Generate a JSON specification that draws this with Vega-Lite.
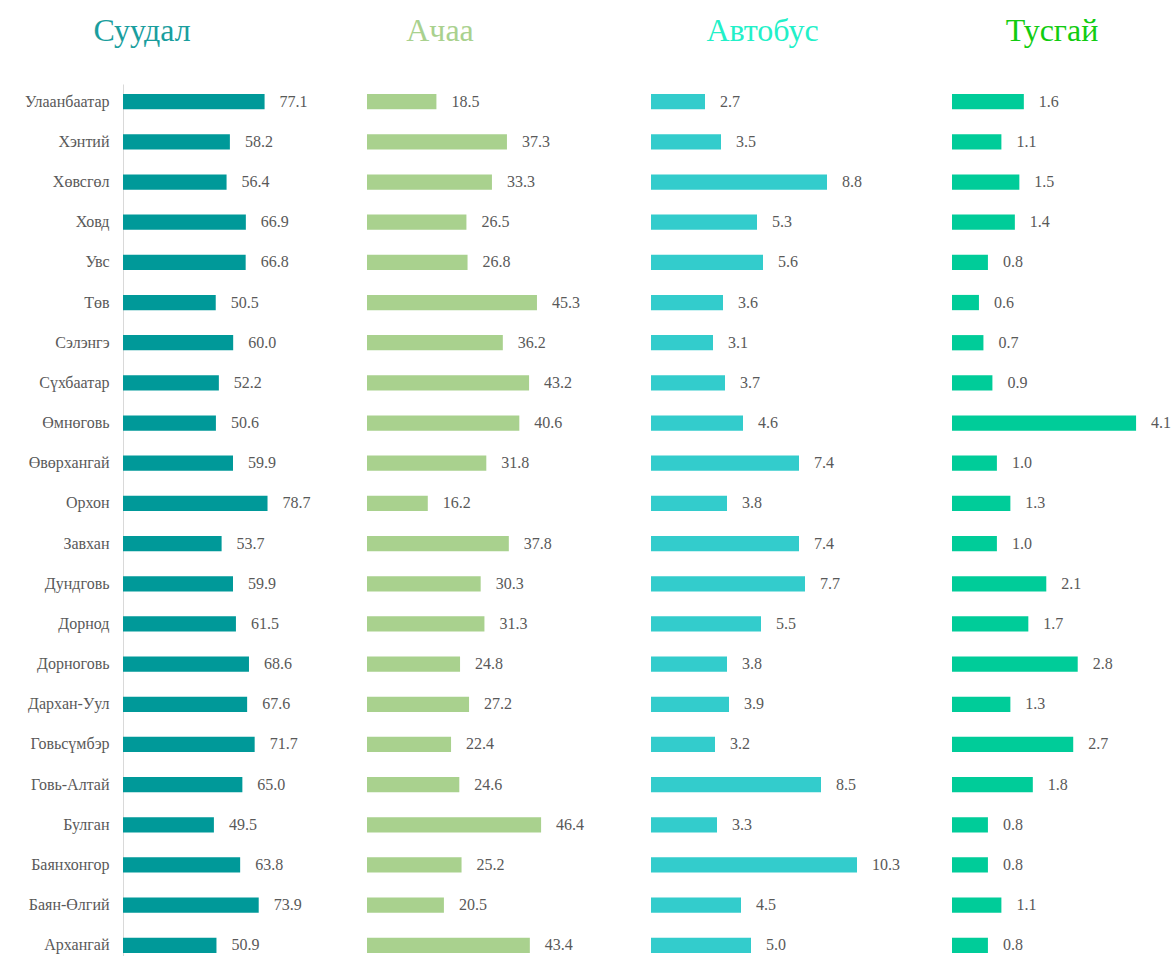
{
  "$schema": "https://vega.github.io/schema/vega-lite/v6.json",
  "padding": {"left": 5, "top": 15, "right": 0, "bottom": 0},
  "background": "white",
  "datasets": {
    "d": [
      {"region": "Улаанбаатар", "s": 77.1, "a": 18.5, "b": 2.7, "t": 1.6},
      {"region": "Хэнтий", "s": 58.2, "a": 37.3, "b": 3.5, "t": 1.1},
      {"region": "Хөвсгөл", "s": 56.4, "a": 33.3, "b": 8.8, "t": 1.5},
      {"region": "Ховд", "s": 66.9, "a": 26.5, "b": 5.3, "t": 1.4},
      {"region": "Увс", "s": 66.8, "a": 26.8, "b": 5.6, "t": 0.8},
      {"region": "Төв", "s": 50.5, "a": 45.3, "b": 3.6, "t": 0.6},
      {"region": "Сэлэнгэ", "s": 60.0, "a": 36.2, "b": 3.1, "t": 0.7},
      {"region": "Сүхбаатар", "s": 52.2, "a": 43.2, "b": 3.7, "t": 0.9},
      {"region": "Өмнөговь", "s": 50.6, "a": 40.6, "b": 4.6, "t": 4.1},
      {"region": "Өвөрхангай", "s": 59.9, "a": 31.8, "b": 7.4, "t": 1.0},
      {"region": "Орхон", "s": 78.7, "a": 16.2, "b": 3.8, "t": 1.3},
      {"region": "Завхан", "s": 53.7, "a": 37.8, "b": 7.4, "t": 1.0},
      {"region": "Дундговь", "s": 59.9, "a": 30.3, "b": 7.7, "t": 2.1},
      {"region": "Дорнод", "s": 61.5, "a": 31.3, "b": 5.5, "t": 1.7},
      {"region": "Дорноговь", "s": 68.6, "a": 24.8, "b": 3.8, "t": 2.8},
      {"region": "Дархан-Уул", "s": 67.6, "a": 27.2, "b": 3.9, "t": 1.3},
      {"region": "Говьсүмбэр", "s": 71.7, "a": 22.4, "b": 3.2, "t": 2.7},
      {"region": "Говь-Алтай", "s": 65.0, "a": 24.6, "b": 8.5, "t": 1.8},
      {"region": "Булган", "s": 49.5, "a": 46.4, "b": 3.3, "t": 0.8},
      {"region": "Баянхонгор", "s": 63.8, "a": 25.2, "b": 10.3, "t": 0.8},
      {"region": "Баян-Өлгий", "s": 73.9, "a": 20.5, "b": 4.5, "t": 1.1},
      {"region": "Архангай", "s": 50.9, "a": 43.4, "b": 5.0, "t": 0.8}
    ]
  },
  "config": {
    "view": {"stroke": null},
    "font": "Times New Roman",
    "title": {"font": "Times New Roman", "fontSize": 32, "fontWeight": "normal", "frame": "group", "anchor": "middle", "offset": 36},
    "text": {"font": "Times New Roman", "fontSize": 16, "color": "#595959"},
    "scale": {"bandPaddingInner": 0.62, "bandPaddingOuter": 0.25}
  },
  "spacing": 42,
  "hconcat": [
    {
      "title": {"text": "Суудал", "color": "#1a9e9e", "dx": -82},
      "width": 202,
      "height": 879,
      "data": {"name": "d"},
      "encoding": {
        "y": {"field": "region", "type": "nominal", "sort": null,
          "axis": {"title": null, "ticks": false, "domainColor": "#d9d9d9", "labelFont": "Times New Roman", "labelFontSize": 16, "labelColor": "#595959", "labelPadding": 14, "minExtent": 118, "maxExtent": 118}},
        "x": {"field": "s", "type": "quantitative", "scale": {"domain": [0, 110]}, "axis": null}
      },
      "layer": [
        {"mark": {"type": "bar", "color": "#009999"}},
        {"mark": {"type": "text", "align": "left", "dx": 15}, "encoding": {"text": {"field": "s", "type": "quantitative", "format": ".1f"}}}
      ]
    },
    {
      "title": {"text": "Ачаа", "color": "#a9d18e", "dx": -48},
      "width": 242,
      "height": 879,
      "data": {"name": "d"},
      "encoding": {
        "y": {"field": "region", "type": "nominal", "sort": null, "axis": null},
        "x": {"field": "a", "type": "quantitative", "scale": {"domain": [0, 64.5]}, "axis": null}
      },
      "layer": [
        {"mark": {"type": "bar", "color": "#a9d18e"}},
        {"mark": {"type": "text", "align": "left", "dx": 15}, "encoding": {"text": {"field": "a", "type": "quantitative", "format": ".1f"}}}
      ]
    },
    {
      "title": {"text": "Автобус", "color": "#22f0c8", "dx": -18},
      "width": 259,
      "height": 879,
      "data": {"name": "d"},
      "encoding": {
        "y": {"field": "region", "type": "nominal", "sort": null, "axis": null},
        "x": {"field": "b", "type": "quantitative", "scale": {"domain": [0, 12.95]}, "axis": null}
      },
      "layer": [
        {"mark": {"type": "bar", "color": "#33cccc"}},
        {"mark": {"type": "text", "align": "left", "dx": 15}, "encoding": {"text": {"field": "b", "type": "quantitative", "format": ".1f"}}}
      ]
    },
    {
      "title": {"text": "Тусгай", "color": "#11cc11", "dx": -10},
      "width": 220,
      "height": 879,
      "data": {"name": "d"},
      "encoding": {
        "y": {"field": "region", "type": "nominal", "sort": null, "axis": null},
        "x": {"field": "t", "type": "quantitative", "scale": {"domain": [0, 4.9]}, "axis": null}
      },
      "layer": [
        {"mark": {"type": "bar", "color": "#00cc99"}},
        {"mark": {"type": "text", "align": "left", "dx": 15}, "encoding": {"text": {"field": "t", "type": "quantitative", "format": ".1f"}}}
      ]
    }
  ]
}
